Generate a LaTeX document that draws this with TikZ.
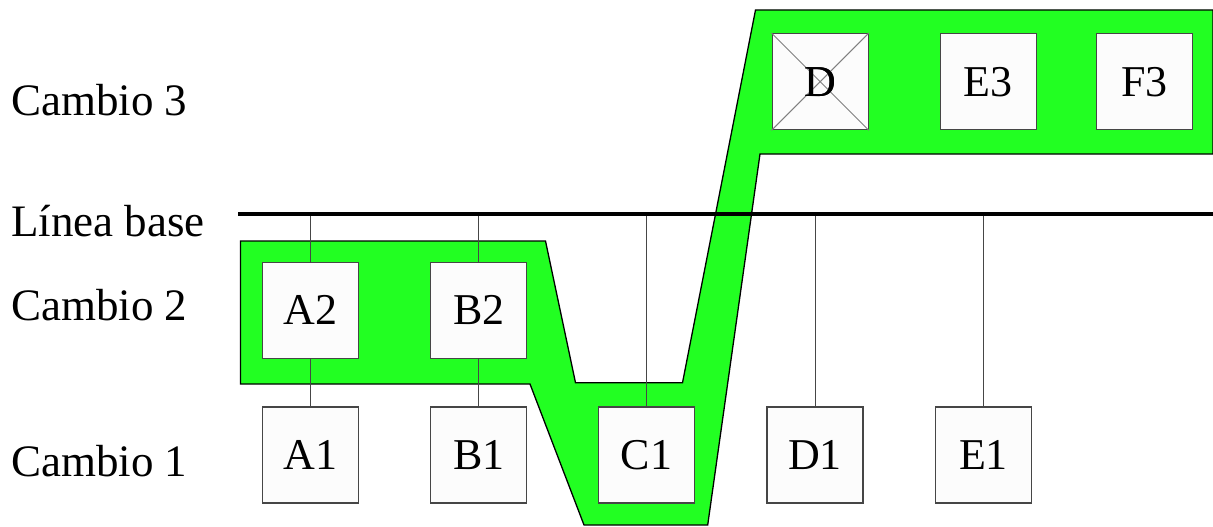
\documentclass[tikz,border=0pt]{standalone}
\usepackage{fontspec}
\setmainfont{Liberation Serif}
\definecolor{bandgreen}{RGB}{34,255,34}
\definecolor{boxedge}{RGB}{70,70,70}
\definecolor{boxfill}{RGB}{252,252,252}
\begin{document}
\begin{tikzpicture}[x=1pt,y=-1pt,
  box/.style={draw=boxedge,line width=1.3pt,fill=boxfill,minimum size=96pt,inner sep=0pt,
    font=\fontsize{44}{50}\selectfont},
  lab/.style={anchor=base west,inner sep=0pt,font=\fontsize{45}{54}\selectfont},
  stem/.style={draw=boxedge,line width=1pt},
  band/.style={fill=bandgreen,draw=black,line width=1.3pt,line join=miter}]
\useasboundingbox (0,0) rectangle (1213,527);
% green band
\path[band] (240.5,241) -- (545.5,241) -- (575.5,382.7) -- (682.5,382.7) -- (755.5,10)
  -- (1213,10) -- (1213,154) -- (760,154) -- (707.7,525) -- (584,525) -- (530,384)
  -- (240.5,384) -- cycle;
% baseline
\coordinate (bl) at (238,214);
\coordinate (br) at (1213,214);
% boxes
\node[box] (A2) at (310.5,310.3) {A2};
\node[box] (B2) at (478.8,310.3) {B2};
\node[box] (A1) at (310.5,455) {A1};
\node[box] (B1) at (478.8,455) {B1};
\node[box] (C1) at (646.5,455) {C1};
\node[box] (D1) at (815,455) {D1};
\node[box] (E1) at (983.5,455) {E1};
\node[box] (D3) at (820.2,81.7) {D};
\node[box] (E3) at (988.3,81.7) {E3};
\node[box] (F3) at (1144.6,81.7) {F3};
% cross on D
\draw[draw=gray,line width=1pt] (D3.north west) -- (D3.south east) (D3.north east) -- (D3.south west);
\node[font=\fontsize{44}{50}\selectfont,inner sep=0pt] at (D3.center) {D};
% stems
\draw[stem] (A2.north) -- (A2.north |- bl);
\draw[stem] (A2.south) -- (A1.north);
\draw[stem] (B2.north) -- (B2.north |- bl);
\draw[stem] (B2.south) -- (B1.north);
\draw[stem] (C1.north) -- (C1.north |- bl);
\draw[stem] (D1.north) -- (D1.north |- bl);
\draw[stem] (E1.north) -- (E1.north |- bl);
\draw[line width=3.2pt,black] (bl) -- (br);
% labels
\node[lab] (c3) at (11,115) {Cambio 3};
\node[lab] (lb) at (11,236) {Línea base};
\node[lab] (c2) at (11,320.7) {Cambio 2};
\node[lab] (c1) at (11,476.7) {Cambio 1};
\end{tikzpicture}
\end{document}
